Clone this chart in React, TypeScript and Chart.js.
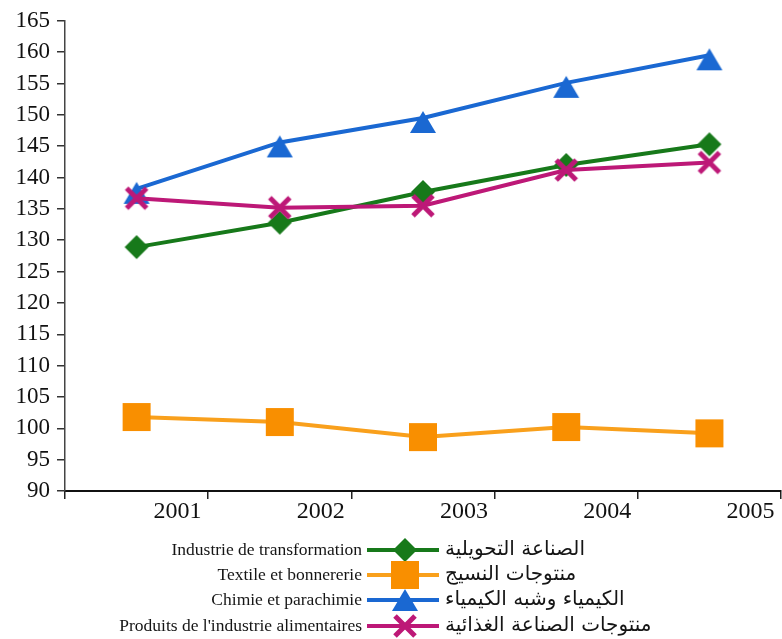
import React, { useEffect, useRef } from 'react';
import { Chart, registerables } from 'chart.js';

Chart.register(...registerables);

// ---- data ----
const years = ['2001', '2002', '2003', '2004', '2005'];
const transformation = [128.9, 132.8, 137.7, 142.0, 145.3];
const textile = [101.8, 101.0, 98.6, 100.2, 99.2];
const chimie = [138.2, 145.6, 149.5, 155.1, 159.5];
const alimentaire = [136.7, 135.2, 135.5, 141.2, 142.4];

const namesFr = [
  'Industrie de transformation',
  'Textile et bonnererie',
  'Chimie et parachimie',
  "Produits de l'industrie alimentaires",
];
const namesAr = [
  'الصناعة التحويلية',
  'منتوجات النسيج',
  'الكيمياء وشبه الكيمياء',
  'منتوجات الصناعة الغذائية',
];
const yMin = 90;
const yMax = 165;
const yStep = 5;

// ---- styles ----
const GREEN = '#17791a';
const ORANGE = '#f98f00';
const ORANGE_LINE = '#f9a01c';
const BLUE = '#1a68d2';
const MAGENTA = '#bd1877';

type Kind = 'diamond' | 'square' | 'triangle' | 'cross';

function drawMarker(ctx: CanvasRenderingContext2D, kind: Kind, color: string, x: number, y: number) {
  ctx.save();
  ctx.fillStyle = color;
  ctx.strokeStyle = color;
  ctx.beginPath();
  if (kind === 'diamond') {
    ctx.moveTo(x, y - 12);
    ctx.lineTo(x + 12, y);
    ctx.lineTo(x, y + 12);
    ctx.lineTo(x - 12, y);
    ctx.closePath();
    ctx.fill();
  } else if (kind === 'square') {
    ctx.rect(x - 14, y - 14, 28, 28);
    ctx.fill();
  } else if (kind === 'triangle') {
    ctx.moveTo(x, y - 7);
    ctx.lineTo(x + 13, y + 15);
    ctx.lineTo(x - 13, y + 15);
    ctx.closePath();
    ctx.fill();
  } else {
    ctx.lineWidth = 5;
    ctx.moveTo(x - 10, y - 10);
    ctx.lineTo(x + 10, y + 10);
    ctx.moveTo(x + 10, y - 10);
    ctx.lineTo(x - 10, y + 10);
    ctx.stroke();
  }
  ctx.restore();
}

function markerImage(kind: Kind, color: string) {
  const c = document.createElement('canvas');
  c.width = 40;
  c.height = 48;
  const g = c.getContext('2d')!;
  drawMarker(g, kind, color, 20, 24);
  return c;
}

const seriesStyle: { kind: Kind; color: string; line: string; dy: number }[] = [
  { kind: 'diamond', color: GREEN, line: GREEN, dy: 0 },
  { kind: 'square', color: ORANGE, line: ORANGE_LINE, dy: 0 },
  { kind: 'triangle', color: BLUE, line: BLUE, dy: -4 },
  { kind: 'cross', color: MAGENTA, line: MAGENTA, dy: 0 },
];

const legendPlugin = {
  id: 'bilingualLegend',
  afterDraw(chart: any) {
    const ctx: CanvasRenderingContext2D = chart.ctx;
    const rows = [550, 575, 600, 626];
    const lineX0 = 367;
    const lineX1 = 439;
    const markX = 405;
    ctx.save();
    for (let i = 0; i < namesFr.length; i++) {
      const y = rows[i];
      const st = seriesStyle[i];
      ctx.fillStyle = '#151515';
      ctx.font = '17.5px "Liberation Serif", serif';
      ctx.textAlign = 'right';
      ctx.textBaseline = 'middle';
      ctx.fillText(namesFr[i], 362, y);
      ctx.strokeStyle = st.line;
      ctx.lineWidth = 4;
      ctx.beginPath();
      ctx.moveTo(lineX0, y);
      ctx.lineTo(lineX1, y);
      ctx.stroke();
      drawMarker(ctx, st.kind, st.color, markX, y + st.dy);
      ctx.fillStyle = '#151515';
      ctx.font = '20px "DejaVu Sans", sans-serif';
      ctx.textAlign = 'left';
      (ctx as any).direction = 'rtl';
      ctx.fillText(namesAr[i], 445, y);
      (ctx as any).direction = 'ltr';
    }
    ctx.restore();
  },
};

export default function App() {
  const ref = useRef<HTMLCanvasElement | null>(null);
  useEffect(() => {
    if (!ref.current) return;
    const series = [transformation, textile, chimie, alimentaire];
    const orders = [2, 4, 3, 1];
    const chart = new Chart(ref.current, {
      type: 'line',
      data: {
        labels: years,
        datasets: series.map((d, i) => ({
          label: namesFr[i],
          data: d,
          borderColor: seriesStyle[i].line,
          backgroundColor: seriesStyle[i].color,
          borderWidth: 4,
          tension: 0,
          pointStyle: markerImage(seriesStyle[i].kind, seriesStyle[i].color) as any,
          pointRadius: 14,
          order: orders[i],
        })),
      },
      options: {
        animation: false,
        responsive: false,
        devicePixelRatio: 1,
        layout: { autoPadding: false, padding: { top: 15, right: 1, left: 0, bottom: 0 } },
        plugins: { legend: { display: false }, tooltip: { enabled: false } },
        scales: {
          x: {
            type: 'category',
            offset: true,
            afterFit: (s: any) => {
              s.height = 148;
              s.paddingLeft = 0;
              s.paddingRight = 0;
            },
            grid: {
              display: true,
              drawOnChartArea: false,
              drawTicks: true,
              tickLength: 8,
              offset: true,
              color: '#222',
              lineWidth: 1.5,
            },
            border: { display: true, color: '#111', width: 2 },
            ticks: {
              align: 'end',
              labelOffset: 65,
              padding: -2,
              maxRotation: 0,
              autoSkip: false,
              color: '#111',
              font: { family: '"Liberation Serif", serif', size: 24 },
            },
          },
          y: {
            min: yMin,
            max: yMax,
            afterFit: (s: any) => {
              s.width = 65;
            },
            grid: {
              display: true,
              drawOnChartArea: false,
              drawTicks: true,
              tickLength: 8,
              color: '#333',
              lineWidth: 1.5,
            },
            border: { display: true, color: '#444', width: 1.5 },
            ticks: {
              stepSize: yStep,
              padding: 7,
              color: '#111',
              font: { family: '"Liberation Serif", serif', size: 23 },
            },
          },
        },
      },
      plugins: [legendPlugin],
    });
    return () => chart.destroy();
  }, []);
  return (
    <div style={{ position: 'absolute', left: 0, top: 0, width: 782, height: 639, background: '#fff' }}>
      <canvas ref={ref} width={782} height={639} style={{ display: 'block' }} />
    </div>
  );
}
